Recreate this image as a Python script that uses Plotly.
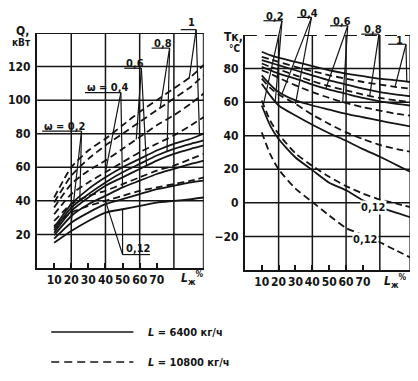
import numpy as np
import plotly.graph_objects as go

# ---------------- data ----------------
omegas = ["0,12", "0,2", "0,4", "0,6", "0,8", "1"]

# Left chart: Q, кВт vs L_ж, %
L_q = [10, 20, 30, 40, 50, 60, 70, 80, 90, 97.5]
Q_6400 = {
    "0,12": [15, 22, 28, 33, 35, 37, 39, 40, 41, 42],
    "0,2":  [17.5, 27, 33, 38, 41, 44, 47, 49, 51, 52],
    "0,4":  [19.5, 31, 38, 43, 48, 52, 56, 59, 62, 64],
    "0,6":  [21, 34, 42, 49, 54, 59, 64, 68, 71, 73],
    "0,8":  [22.5, 36, 44, 51, 57, 62, 67, 71, 74, 76],
    "1":    [24, 38, 47, 54, 60, 65, 70, 74, 77, 80],
}
Q_10800 = {
    "0,12": [25, 33, 37, 40, 43, 46, 48, 50, 52, 54],
    "0,2":  [28, 38, 43, 46, 50, 54, 58, 61, 65, 68],
    "0,4":  [32, 44, 51, 57, 63, 69, 74, 79, 85, 90],
    "0,6":  [36, 50, 58, 64, 71, 78, 85, 91, 98, 104],
    "0,8":  [39, 55, 65, 73, 80, 87, 94, 101, 108, 115],
    "1":    [42, 60, 70, 77, 85, 93, 100, 107, 114, 121],
}

# Right chart: Tк, °C vs L_ж, %
L_t = [10, 15, 20, 30, 40, 50, 60, 70, 80, 90, 98]
T_6400 = {
    "0,12": [58, 46, 38, 27, 19.5, 12, 7.5, 1.5, -2.5, -6, -8.5],
    "0,2":  [71, 64, 58, 52, 46.5, 41.5, 37, 32, 27.5, 22.5, 18.5],
    "0,4":  [76, 70.5, 66, 61, 58, 55.5, 53, 51, 49, 47, 45.5],
    "0,6":  [81, 79, 77, 74, 70.5, 67.5, 65, 62.5, 60.5, 59, 58],
    "0,8":  [85, 83.5, 82, 79, 76, 73, 70.5, 68, 66, 64.5, 63.5],
    "1":    [90, 88, 86.5, 84, 81.5, 79, 77, 75.5, 74, 73, 72],
}
T_10800 = {
    "0,12": [42, 29, 20, 8.5, 0.5, -7.5, -15, -19, -23.5, -28.5, -32.5],
    "0,2":  [61, 49, 41, 29.5, 22, 15.5, 10, 5.5, 2, -0.5, -2.5],
    "0,4":  [74, 68.5, 64.5, 59, 52.5, 47, 42, 38, 34.5, 32, 30.5],
    "0,6":  [79, 77, 74.5, 70, 66, 62.5, 59.5, 57, 55, 53, 52],
    "0,8":  [83, 81, 79.5, 76, 72.5, 69.5, 67, 64.5, 62.5, 61, 60],
    "1":    [87, 85.5, 84, 81, 78.5, 76, 74, 72, 70.5, 69, 68],
}

x_ticks = [10, 20, 30, 40, 50, 60, 70]
q_ticks = [20, 40, 60, 80, 100, 120]
t_ticks = [-20, 0, 20, 40, 60, 80]
grid_L = [20, 40, 60, 80]

legend_labels = ["<i>L</i> = 6400 кг/ч", "<i>L</i> = 10800 кг/ч"]

# ---------------- geometry / style ----------------
OFF = 8                      # default page margin of the html body
W, H = 418 - OFF, 381 - OFF
INK = "#151515"
FONT = "Liberation Sans Narrow, DejaVu Sans Condensed, Arial Narrow, sans-serif"
DASH = "7px,4px"
LW = 1.8

def px(x):
    return (x - OFF) / W

def py(y):
    return 1 - (y - OFF) / H

# axis boxes in window pixels and their ranges
AX = {
    "": dict(x0=28.5, x1=199, xr=(0, 97.5), y0=268, y1=33, yr=(0, 140)),
    "2": dict(x0=241, x1=410, xr=(0, 98), y0=270, y1=35, yr=(-40, 100)),
}

def to_paper(ax_id, xv, yv):
    a = AX[ax_id]
    xp = a["x0"] + (xv - a["xr"][0]) / (a["xr"][1] - a["xr"][0]) * (a["x1"] - a["x0"])
    yp = a["y0"] + (yv - a["yr"][0]) / (a["yr"][1] - a["yr"][0]) * (a["y1"] - a["y0"])
    return px(xp), py(yp)

fig = go.Figure()

for w in omegas:
    fig.add_trace(go.Scatter(x=L_q, y=Q_6400[w], mode="lines", xaxis="x", yaxis="y",
                             line=dict(color=INK, width=LW, shape="spline", smoothing=0.6),
                             showlegend=False, hoverinfo="skip"))
    fig.add_trace(go.Scatter(x=L_q, y=Q_10800[w], mode="lines", xaxis="x", yaxis="y",
                             line=dict(color=INK, width=LW, dash=DASH, shape="spline", smoothing=0.6),
                             showlegend=False, hoverinfo="skip"))
    fig.add_trace(go.Scatter(x=L_t, y=T_6400[w], mode="lines", xaxis="x2", yaxis="y2",
                             line=dict(color=INK, width=LW, shape="spline", smoothing=0.6),
                             showlegend=False, hoverinfo="skip"))
    fig.add_trace(go.Scatter(x=L_t, y=T_10800[w], mode="lines", xaxis="x2", yaxis="y2",
                             line=dict(color=INK, width=LW, dash=DASH, shape="spline", smoothing=0.6),
                             showlegend=False, hoverinfo="skip"))

shapes = []
# gridlines
for g in grid_L:
    shapes.append(dict(type="line", xref="x", yref="y", x0=g, x1=g, y0=0, y1=140,
                       line=dict(color=INK, width=1.5), layer="below"))
    shapes.append(dict(type="line", xref="x2", yref="y2", x0=g, x1=g, y0=-40, y1=100,
                       line=dict(color=INK, width=1.5), layer="below"))
for g in q_ticks:
    shapes.append(dict(type="line", xref="x", yref="y", x0=0, x1=97.5, y0=g, y1=g,
                       line=dict(color=INK, width=1.5), layer="below"))
for g in t_ticks:
    shapes.append(dict(type="line", xref="x2", yref="y2", x0=0, x1=98, y0=g, y1=g,
                       line=dict(color=INK, width=1.5), layer="below"))
# borders (top/right)
shapes.append(dict(type="line", xref="x", yref="y", x0=0, x1=97.5, y0=140, y1=140,
                   line=dict(color=INK, width=2)))
shapes.append(dict(type="line", xref="x", yref="y", x0=97.5, x1=97.5, y0=0, y1=140,
                   line=dict(color=INK, width=2)))
shapes.append(dict(type="line", xref="x2", yref="y2", x0=0, x1=98, y0=100, y1=100,
                   line=dict(color=INK, width=2, dash="12px,8px")))
shapes.append(dict(type="line", xref="x2", yref="y2", x0=98, x1=98, y0=-40, y1=100,
                   line=dict(color=INK, width=1.5)))

# legend keys
shapes.append(dict(type="line", xref="paper", yref="paper", x0=px(43), x1=px(127), y0=py(332), y1=py(332),
                   line=dict(color=INK, width=1.4)))
shapes.append(dict(type="line", xref="paper", yref="paper", x0=px(43), x1=px(127), y0=py(362), y1=py(362),
                   line=dict(color=INK, width=1.4, dash="8px,5px")))

annotations = []

def txt(x, y, text, size=11, xanchor="center", bg=None):
    d = dict(x=x, y=y, xref="paper", yref="paper", text=text, showarrow=False,
             xanchor=xanchor, yanchor="middle",
             font=dict(family=FONT, size=size, color=INK, weight="bold"))
    if bg:
        d["bgcolor"] = bg
        d["borderpad"] = 0
    annotations.append(d)

def seg(ax_id, xa, ya, xb, yb, width=1.2):
    p0 = to_paper(ax_id, xa, ya)
    p1 = to_paper(ax_id, xb, yb)
    shapes.append(dict(type="line", xref="paper", yref="paper",
                       x0=p0[0], y0=p0[1], x1=p1[0], y1=p1[1],
                       line=dict(color=INK, width=width)))

def label(ax_id, xs, ys, text, under, legs):
    xp, yp = to_paper(ax_id, xs, ys)
    txt(xp, yp, text, xanchor="left")
    seg(ax_id, under[0], under[2], under[1], under[2])
    for (Lt, arr, Lgrid) in legs:
        yt = float(np.interp(Lt, Lgrid, arr))
        seg(ax_id, under[1], under[2], Lt, yt)

# left chart labels
label("", 3, 84.5, "ω = 0,2", (3, 26, 81.5),
      [(25, Q_10800["0,2"], L_q), (20, Q_6400["0,2"], L_q)])
label("", 28, 107.5, "ω = 0,4", (28, 49, 104.5),
      [(40, Q_10800["0,4"], L_q), (50, Q_6400["0,4"], L_q)])
label("", 51, 122, "0,6", (51, 61, 119),
      [(58, Q_10800["0,6"], L_q), (64, Q_6400["0,6"], L_q)])
label("", 67, 134, "0,8", (67, 77.5, 131),
      [(72, Q_10800["0,8"], L_q), (76, Q_6400["0,8"], L_q)])
label("", 87, 146, "1", (84, 93, 142),
      [(89, Q_10800["1"], L_q), (95, Q_6400["1"], L_q)])
# bottom 0,12 label (legs go up to curves)
xp, yp = to_paper("", 51, 11.5)
txt(xp, yp, "0,12", xanchor="left")
seg("", 50, 8, 66, 8)
seg("", 50, 8, 50, float(np.interp(50, L_q, Q_6400["0,12"])))
seg("", 50, 8, 40, float(np.interp(40, L_q, Q_10800["0,12"])))

# right chart labels
label("2", 11.5, 111, "0,2", (11, 22, 108.5),
      [(11, T_10800["0,2"], L_t), (18, T_6400["0,2"], L_t)])
label("2", 31.5, 113, "0,4", (31, 39.5, 110.5),
      [(30, T_10800["0,4"], L_t), (22, T_6400["0,4"], L_t)])
label("2", 51, 108, "0,6", (50.5, 61, 105.5),
      [(58, T_10800["0,6"], L_t), (48, T_6400["0,6"], L_t)])
label("2", 69.5, 103, "0,8", (69, 79.5, 100.5),
      [(74, T_10800["0,8"], L_t), (80, T_6400["0,8"], L_t)])
label("2", 88.5, 97, "1", (85, 95.5, 94.5),
      [(89, T_10800["1"], L_t), (96, T_6400["1"], L_t)])
xp, yp = to_paper("2", 76.5, -2.5)
txt(xp, yp, "0,12", bg="white")
xp, yp = to_paper("2", 71.5, -22)
txt(xp, yp, "0,12", bg="white")

# axis titles
txt(px(14), py(31), "Q,", size=12)
txt(px(13), py(43), "кВт", size=10)
txt(px(229), py(37), "Tк,", size=12)
txt(px(230), py(49), "°C", size=10)
txt(px(187), py(278), "<i>L</i><sub>ж</sub><sup>%</sup>", size=12)
txt(px(394), py(281), "<i>L</i><sub>ж</sub><sup>%</sup>", size=12)

# legend texts
txt(px(140), py(332), legend_labels[0], size=11, xanchor="left")
txt(px(140), py(362), legend_labels[1], size=11, xanchor="left")

tickfont = dict(family=FONT, size=12, color=INK, weight="bold")
xcommon = dict(tickvals=x_ticks, ticks="inside", ticklen=5, tickwidth=1.5, tickcolor=INK,
               showgrid=False, zeroline=False, showline=True, linecolor=INK, linewidth=2,
               tickfont=tickfont, tickangle=0, fixedrange=True)
ycommon = dict(ticks="", showgrid=False, zeroline=False, showline=True, linecolor=INK,
               linewidth=2, tickfont=tickfont, fixedrange=True, ticklabelstandoff=2)

A0, A2 = AX[""], AX["2"]
fig.update_layout(
    width=W, height=H,
    margin=dict(l=0, r=0, t=0, b=0),
    paper_bgcolor="white", plot_bgcolor="white",
    showlegend=False,
    xaxis=dict(domain=[px(A0["x0"]), px(A0["x1"])], range=list(A0["xr"]), anchor="y", **xcommon),
    yaxis=dict(domain=[py(A0["y0"]), py(A0["y1"])], range=list(A0["yr"]), anchor="x",
               tickvals=q_ticks, **ycommon),
    xaxis2=dict(domain=[px(A2["x0"]), px(A2["x1"])], range=list(A2["xr"]), anchor="y2", **xcommon),
    yaxis2=dict(domain=[py(A2["y0"]), py(A2["y1"])], range=list(A2["yr"]), anchor="x2",
                tickvals=t_ticks, **ycommon),
    shapes=shapes,
    annotations=annotations,
)

fig.write_html("out.html")
